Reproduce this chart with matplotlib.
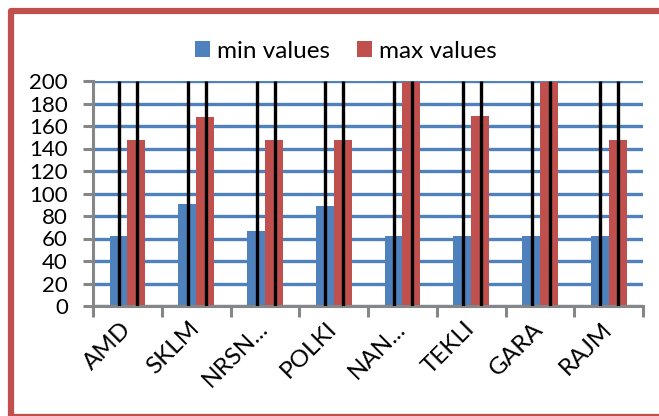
import numpy as np
import matplotlib
matplotlib.use("Agg")
import matplotlib.pyplot as plt
from matplotlib.patches import Rectangle

plt.rcParams['font.family'] = ['Lato', 'DejaVu Sans']

categories = ["AMD", "SKLM", "NRSN...", "POLKI", "NAN...", "TEKLI", "GARA", "RAJM"]
min_values = [62, 91, 67, 89, 62, 62, 62, 62]
max_values = [148, 168, 148, 148, 199, 169, 199, 148]
y_ticks = [0, 20, 40, 60, 80, 100, 120, 140, 160, 180, 200]

blue = "#4F81BD"
red = "#C0504D"
grey = "#868686"

W, H = 659, 416
fig = plt.figure(figsize=(W / 100, H / 100), dpi=100)
ax = fig.add_axes([93 / W, (H - 306) / H, 550 / W, 225 / H])

x = np.arange(len(categories))
bw = 0.26
ax.bar(x - bw / 2, min_values, bw, color=blue, label="min values", zorder=2)
ax.bar(x + bw / 2, max_values, bw, color=red, label="max values", zorder=2)

# black lines through the bar centres, full height
ax.vlines(x - bw / 2 + 0.01, 0, y_ticks[-1], color="black", lw=2.4, zorder=3)
ax.vlines(x + bw / 2 + 0.01, 0, y_ticks[-1], color="black", lw=2.4, zorder=3)

ax.set_xlim(-0.5, len(categories) - 0.5)
ax.set_ylim(0, 200)
ax.set_yticks(y_ticks)
ax.yaxis.grid(True, color=blue, lw=2.4, zorder=0)
ax.set_axisbelow(True)

for s in ["top", "right"]:
    ax.spines[s].set_visible(False)
for s in ["left", "bottom"]:
    ax.spines[s].set_color(grey)
    ax.spines[s].set_linewidth(2.2)

ax.set_xticks(np.arange(len(categories) + 1) - 0.5)
ax.set_xticklabels([])
ax.set_xticks(x, minor=True)
ax.set_xticklabels(categories, minor=True, rotation=45, ha="right", va="center",
                   rotation_mode="anchor", fontsize=17.5)
ax.tick_params(axis="x", which="minor", length=0, pad=14)
ax.tick_params(axis="x", which="major", length=8, width=2.2, color=grey)
ax.tick_params(axis="y", length=7, width=2.2, color=grey, labelsize=16, pad=11)

ax.legend(loc="center", bbox_to_anchor=(346 / W, 1 - 51 / H),
          bbox_transform=fig.transFigure, ncol=2, frameon=False, fontsize=17.5,
          handlelength=0.62, handleheight=0.62, handletextpad=0.3,
          columnspacing=1.1)

fig.patches.append(Rectangle((11 / W, -1 / H), 1.2, (H - 10) / H,
                             transform=fig.transFigure, fill=False,
                             edgecolor=red, lw=4.5, joinstyle="round"))

fig.savefig("out.png", dpi=100)
